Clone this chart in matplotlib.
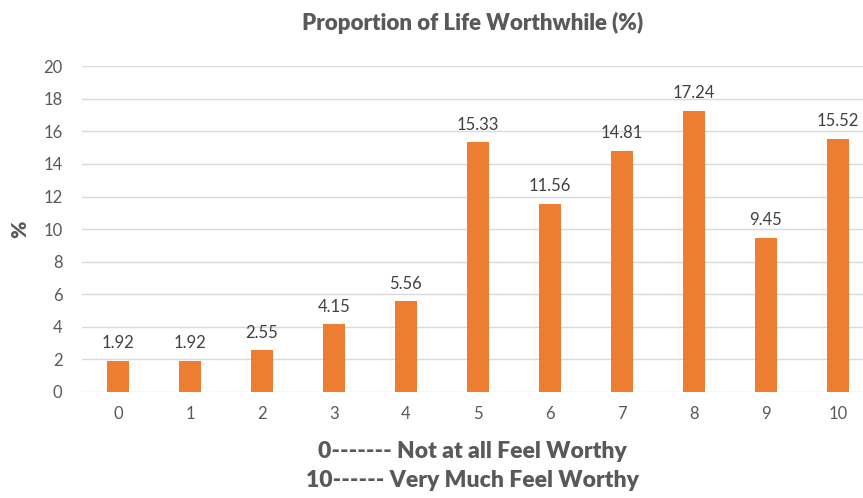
import matplotlib.pyplot as plt

plt.rcParams['font.family'] = ['Lato', 'DejaVu Sans']

scores = ['0', '1', '2', '3', '4', '5', '6', '7', '8', '9', '10']
percent = [1.92, 1.92, 2.55, 4.15, 5.56, 15.33, 11.56, 14.81, 17.24, 9.45, 15.52]

fig = plt.figure(figsize=(8.63, 4.98), dpi=100)
ax = fig.add_axes([0.095, 0.213, 0.905, 0.654])

x = range(len(scores))
bars = ax.bar(x, percent, width=0.31, color='#ED7D31', zorder=3)
for xi, v in zip(x, percent):
    ax.text(xi, v + 0.6, f'{v:.2f}', ha='center', va='bottom', fontsize=12, color='#404040')

ax.set_xlim(-0.5, 10.35)
ax.set_ylim(0, 20)
ax.set_yticks(range(0, 21, 2))
ax.set_xticks(list(x))
ax.set_xticklabels(scores)
ax.grid(axis='y', color='#D9D9D9', linewidth=1, zorder=0)
for s in ax.spines.values():
    s.set_visible(False)
ax.tick_params(length=0, labelsize=12, labelcolor='#595959', pad=10)
ax.tick_params(axis='y', pad=14)

ax.set_title('Proportion of Life Worthwhile (%)', fontsize=16, fontweight='heavy',
             color='#595959', pad=26)
ax.set_ylabel('%', fontsize=15, fontweight='heavy', color='#595959', labelpad=10)
ax.set_xlabel('0------- Not at all Feel Worthy\n10------ Very Much Feel Worthy',
              fontsize=16.5, fontweight='heavy', color='#595959', labelpad=14, linespacing=1.45)

fig.savefig('out.png', dpi=100)
